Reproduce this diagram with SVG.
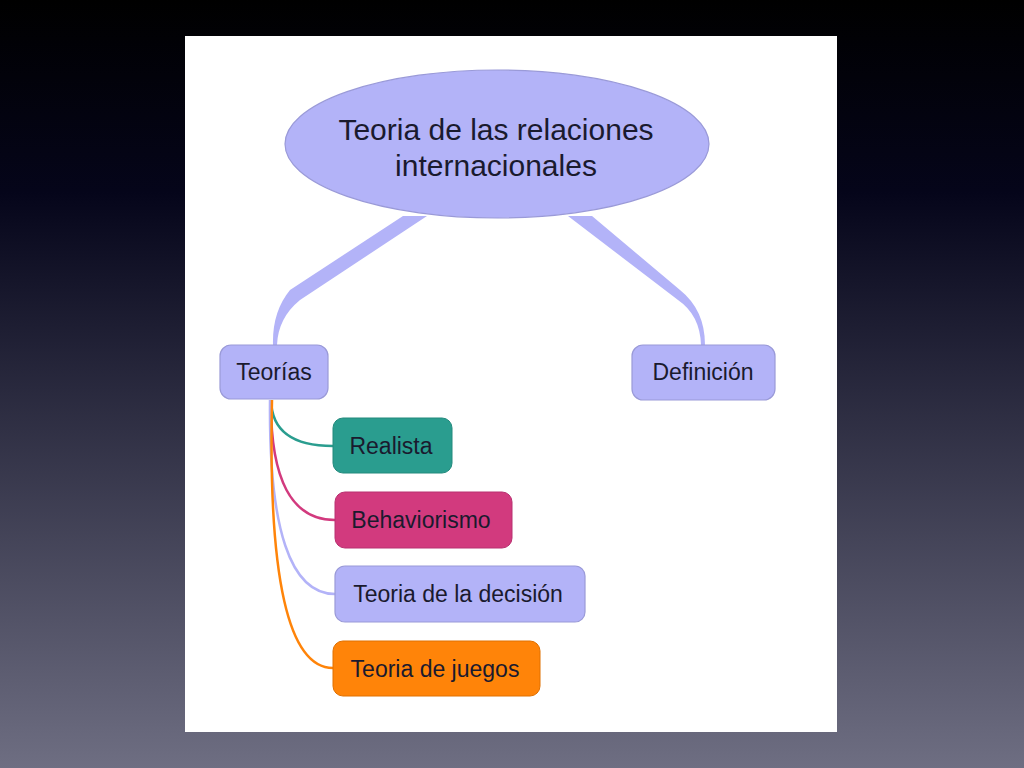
<svg xmlns="http://www.w3.org/2000/svg" width="1024" height="768" viewBox="0 0 1024 768">
<defs>
<linearGradient id="bg" x1="0" y1="0" x2="0" y2="1">
<stop offset="0" stop-color="#000000"/>
<stop offset="0.25" stop-color="#05051a"/>
<stop offset="1" stop-color="#6e6e82"/>
</linearGradient>
<style>
.t{font-family:"Liberation Sans",Arial,sans-serif;fill:#1a1a2e;text-anchor:middle}
.lav{fill:#b3b3f8;stroke:#9a9ad8;stroke-width:1.2}
</style>
</defs>
<rect width="1024" height="768" fill="url(#bg)"/>
<rect x="185" y="36" width="652" height="696" fill="#ffffff"/>
<g id="connectors" fill="none">
<path d="M403 216 L427 216 L300 300 Q278 318 277 345 L273 345 Q272 312 290 290 Z" fill="#b3b3f8"/>
<path d="M568 216 L592 216 L680 290 Q705 310 705 345 L701 345 Q700 315 678 300 Z" fill="#b3b3f8"/>
<path d="M271 400 Q272 446 333 446" stroke="#2a9d8f" stroke-width="2.5"/>
<path d="M271 400 Q270 520 335 520" stroke="#d23a7e" stroke-width="2.5"/>
<path d="M270 400 Q268 594 335 594" stroke="#b3b3f8" stroke-width="2.5"/>
<path d="M272 400 Q266 668 333 668" stroke="#ff8409" stroke-width="2.5"/>
</g>
<g id="root">
<ellipse cx="497" cy="144" rx="212" ry="74" class="lav"/>
<text class="t" x="496" y="140" font-size="30">Teoria de las relaciones</text>
<text class="t" x="496" y="176" font-size="30">internacionales</text>
</g>
<g id="teorias">
<rect x="220" y="345" width="108" height="54" rx="11" class="lav"/>
<text class="t" x="274" y="380" font-size="23">Teorías</text>
</g>
<g id="definicion">
<rect x="632" y="345" width="143" height="55" rx="11" class="lav"/>
<text class="t" x="703" y="380" font-size="23">Definición</text>
</g>
<g id="realista">
<rect x="333" y="418" width="119" height="55" rx="10" fill="#2a9d8f" stroke="#238a7d"/>
<text class="t" x="391" y="454" font-size="23">Realista</text>
</g>
<g id="behaviorismo">
<rect x="335" y="492" width="177" height="56" rx="10" fill="#d23a7e" stroke="#b83070"/>
<text class="t" x="421" y="528" font-size="23">Behaviorismo</text>
</g>
<g id="decision">
<rect x="335" y="566" width="250" height="56" rx="10" class="lav"/>
<text class="t" x="458" y="602" font-size="23">Teoria de la decisión</text>
</g>
<g id="juegos">
<rect x="333" y="641" width="207" height="55" rx="10" fill="#ff8409" stroke="#e07000"/>
<text class="t" x="435" y="677" font-size="23">Teoria de juegos</text>
</g>
</svg>
